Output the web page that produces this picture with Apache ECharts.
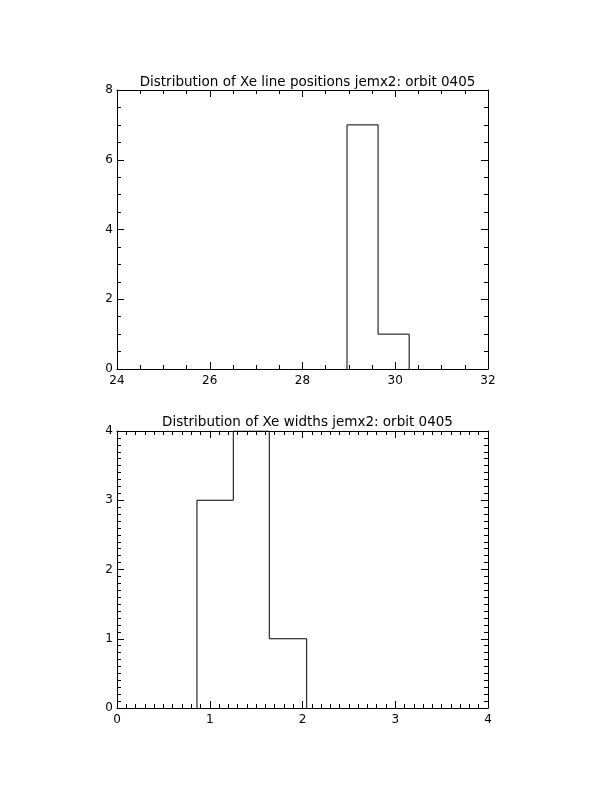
<!DOCTYPE html>
<html>
<head>
<meta charset="utf-8">
<script src="https://cdn.jsdelivr.net/npm/echarts@6/dist/echarts.min.js"></script>
<style>
html,body{margin:0;padding:0;background:#fff;}
#c{width:612px;height:792px;}
</style>
</head>
<body>
<div id="c"></div>
<script>
// Top histogram: Xe line positions
var topTitle = "Distribution of Xe line positions jemx2: orbit 0405";
var topEdges = [28.96, 29.63, 30.30];
var topCounts = [7, 1];
var topXTicks = [24, 26, 28, 30, 32];
var topYTicks = [0, 2, 4, 6, 8];

// Bottom histogram: Xe widths
var botTitle = "Distribution of Xe widths jemx2: orbit 0405";
var botEdges = [0.862, 1.254, 1.642, 2.045];
var botCounts = [3, 4, 1];
var botXTicks = [0, 1, 2, 3, 4];
var botYTicks = [0, 1, 2, 3, 4];

function stepOutline(edges, counts) {
  var pts = [[edges[0], 0]];
  for (var i = 0; i < counts.length; i++) {
    pts.push([edges[i], counts[i]]);
    pts.push([edges[i + 1], counts[i]]);
  }
  pts.push([edges[edges.length - 1], 0]);
  return pts;
}

var FONT = "DejaVu Sans";
var lineStyle = {color: "#000", width: 1};

function mkAxis(gridIndex, position, ticks, minorSplit, majLen, minLen, showLabel, isX) {
  return {
    type: "value",
    gridIndex: gridIndex,
    position: position,
    min: ticks[0],
    max: ticks[ticks.length - 1],
    interval: ticks[1] - ticks[0],
    axisLine: {show: true, onZero: false, lineStyle: lineStyle},
    axisTick: {show: true, inside: true, length: majLen, lineStyle: lineStyle},
    minorTick: {show: true, splitNumber: minorSplit, length: minLen, lineStyle: lineStyle},
    splitLine: {show: false},
    minorSplitLine: {show: false},
    axisLabel: {
      show: showLabel,
      color: "#000",
      fontFamily: FONT,
      fontSize: 12,
      margin: isX ? 6 : 4,
      showMinLabel: true,
      showMaxLabel: true
    }
  };
}

var chart = echarts.init(document.getElementById("c"), null, {renderer: "canvas"});
chart.setOption({
  backgroundColor: "#fff",
  animation: false,
  title: [
    {text: topTitle, left: 302.5, textAlign: "center", top: 70,
     textStyle: {color: "#000", fontFamily: FONT, fontSize: 13.5, fontWeight: "normal"}},
    {text: botTitle, left: 302.5, textAlign: "center", top: 410,
     textStyle: {color: "#000", fontFamily: FONT, fontSize: 13.5, fontWeight: "normal"}}
  ],
  grid: [
    {left: 117, top: 90, width: 371, height: 279},
    {left: 117, top: 431, width: 371, height: 277}
  ],
  xAxis: [
    mkAxis(0, "bottom", topXTicks, 4, 7, 4, true, true),
    mkAxis(0, "top", topXTicks, 4, 7, 4, false, true),
    mkAxis(1, "bottom", botXTicks, 10, 7, 4, true, true),
    mkAxis(1, "top", botXTicks, 10, 7, 4, false, true)
  ],
  yAxis: [
    mkAxis(0, "left", topYTicks, 4, 7, 4, true, false),
    mkAxis(0, "right", topYTicks, 4, 7, 4, false, false),
    mkAxis(1, "left", botYTicks, 10, 7, 4, true, false),
    mkAxis(1, "right", botYTicks, 10, 7, 4, false, false)
  ],
  series: [
    {type: "line", xAxisIndex: 0, yAxisIndex: 0, data: stepOutline(topEdges, topCounts),
     symbol: "none", lineStyle: lineStyle, silent: true},
    {type: "line", xAxisIndex: 2, yAxisIndex: 2, data: stepOutline(botEdges, botCounts),
     symbol: "none", lineStyle: lineStyle, silent: true}
  ]
});
</script>
</body>
</html>
